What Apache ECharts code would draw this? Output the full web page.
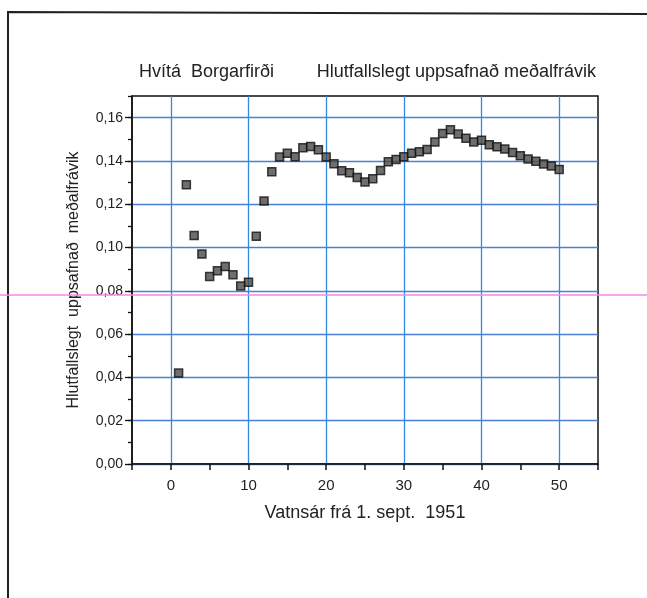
<!DOCTYPE html>
<html>
<head>
<meta charset="utf-8">
<title>Hvítá Borgarfirði</title>
<script src="https://cdn.jsdelivr.net/npm/echarts@6/dist/echarts.min.js"></script>
<style>
  html, body { margin: 0; padding: 0; background: #fff; }
  #chart { width: 647px; height: 598px; }
</style>
</head>
<body>
<div id="chart"></div>
<script>
// Vatnsár (years from 1 Sept 1951)
const years = [
  1, 2, 3, 4, 5, 6, 7, 8, 9, 10,
  11, 12, 13, 14, 15, 16, 17, 18, 19, 20,
  21, 22, 23, 24, 25, 26, 27, 28, 29, 30,
  31, 32, 33, 34, 35, 36, 37, 38, 39, 40,
  41, 42, 43, 44, 45, 46, 47, 48, 49, 50
];

// Hlutfallslegt uppsafnað meðalfrávik
const deviation = [
  0.042, 0.129, 0.1055, 0.097, 0.0866, 0.0893, 0.0912, 0.0874, 0.0822, 0.084,
  0.1052, 0.1215, 0.135, 0.1418, 0.1435, 0.1419, 0.1461, 0.1467, 0.1452, 0.1418,
  0.1387, 0.1355, 0.1346, 0.1324, 0.1303, 0.1318, 0.1356, 0.1396, 0.1407, 0.1419,
  0.1435, 0.1442, 0.1453, 0.1487, 0.1527, 0.1544, 0.1524, 0.1505, 0.1488, 0.1496,
  0.1475, 0.1465, 0.1455, 0.1439, 0.1424, 0.1409, 0.1398, 0.1386, 0.1377, 0.1361
];

// major y ticks (labelled)
const yMajor = [0, 0.02, 0.04, 0.06, 0.08, 0.1, 0.12, 0.14, 0.16];

const titleLeft = 'Hvítá  Borgarfirði';
const titleRight = 'Hlutfallslegt uppsafnað meðalfrávik';
const xName = 'Vatnsár frá 1. sept.  1951';
const yName = 'Hlutfallslegt  uppsafnað  meðalfrávik';

const font = '"Liberation Sans", Arial, Helvetica, sans-serif';
const blue = '#2f8be0';
const hBlue = '#4a80d8';

const points = years.map((y, i) => [y, deviation[i]]);

const chart = echarts.init(document.getElementById('chart'), null, { renderer: 'canvas' });

chart.setOption({
  backgroundColor: '#fff',
  animation: false,
  textStyle: { fontFamily: font },
  title: [
    {
      text: titleLeft,
      left: 134,
      top: 58,
      textStyle: { fontSize: 18, fontWeight: 'normal', color: '#222', fontFamily: font }
    },
    {
      text: titleRight,
      right: 46,
      top: 58,
      textStyle: { fontSize: 18, fontWeight: 'normal', color: '#222', fontFamily: font }
    }
  ],
  grid: {
    left: 132,
    right: 49,
    top: 96,
    bottom: 134,
    show: true,
    borderColor: '#111',
    borderWidth: 1.5
  },
  xAxis: {
    type: 'value',
    min: -5,
    max: 55,
    interval: 5,
    name: xName,
    nameLocation: 'middle',
    nameGap: 40,
    nameTextStyle: { fontSize: 18, color: '#222', fontFamily: font },
    axisLine: { onZero: false, lineStyle: { color: '#111', width: 1.5 } },
    axisTick: { inside: false, length: 6, lineStyle: { color: '#111', width: 1.5 } },
    axisLabel: {
      color: '#222',
      fontSize: 15,
      margin: 14,
      formatter: (v) => (Math.round(v) % 10 === 0 && v >= 0 && v <= 50 ? String(v) : '')
    },
    splitLine: {
      show: true,
      lineStyle: { color: ['transparent', blue], width: 1.3 }
    }
  },
  yAxis: [
    {
      type: 'value',
      min: 0,
      max: 0.17,
      interval: 0.01,
      name: yName,
      nameLocation: 'middle',
      nameGap: 50,
      nameTextStyle: { fontSize: 16, color: '#222', fontFamily: font },
      axisLine: { show: true, onZero: false, lineStyle: { color: '#111', width: 1.5 } },
      axisTick: { show: true, inside: false, length: 4, lineStyle: { color: '#111', width: 1.3 } },
      axisLabel: {
        color: '#222',
        fontSize: 14,
        margin: 9,
        formatter: (v) => {
          const h = Math.round(v * 100);
          return h % 2 === 0 && h <= 16 ? (h / 100).toFixed(2).replace('.', ',') : '';
        }
      },
      splitLine: {
        show: true,
        lineStyle: { color: [hBlue, 'transparent'], width: 1.3 }
      }
    },
    {
      // longer ticks at the labelled values
      type: 'value',
      position: 'left',
      min: 0,
      max: 0.17,
      interval: 0.02,
      axisLine: { show: false, onZero: false },
      axisTick: {
        show: true,
        inside: false,
        length: 7,
        customValues: yMajor,
        lineStyle: { color: '#111', width: 1.3 }
      },
      axisLabel: { show: false },
      splitLine: { show: false }
    }
  ],
  series: [
    {
      name: titleRight,
      type: 'scatter',
      data: points,
      yAxisIndex: 0,
      symbol: 'rect',
      symbolSize: 8,
      itemStyle: {
        color: '#4a4a4a',
        borderColor: '#111',
        borderWidth: 1.5
      },
      z: 5
    }
  ],
  graphic: [
    // page frame (top and left edges of the scanned sheet)
    {
      type: 'polyline',
      shape: { points: [[8, 598], [8, 12], [647, 14]] },
      style: { stroke: '#222', lineWidth: 2, fill: null },
      silent: true
    },
    // scanner streak across the page
    {
      type: 'line',
      shape: { x1: 0, y1: 295, x2: 647, y2: 295 },
      style: { stroke: '#f28ae6', lineWidth: 1.5 },
      silent: true,
      z: 10
    }
  ]
});
</script>
</body>
</html>
